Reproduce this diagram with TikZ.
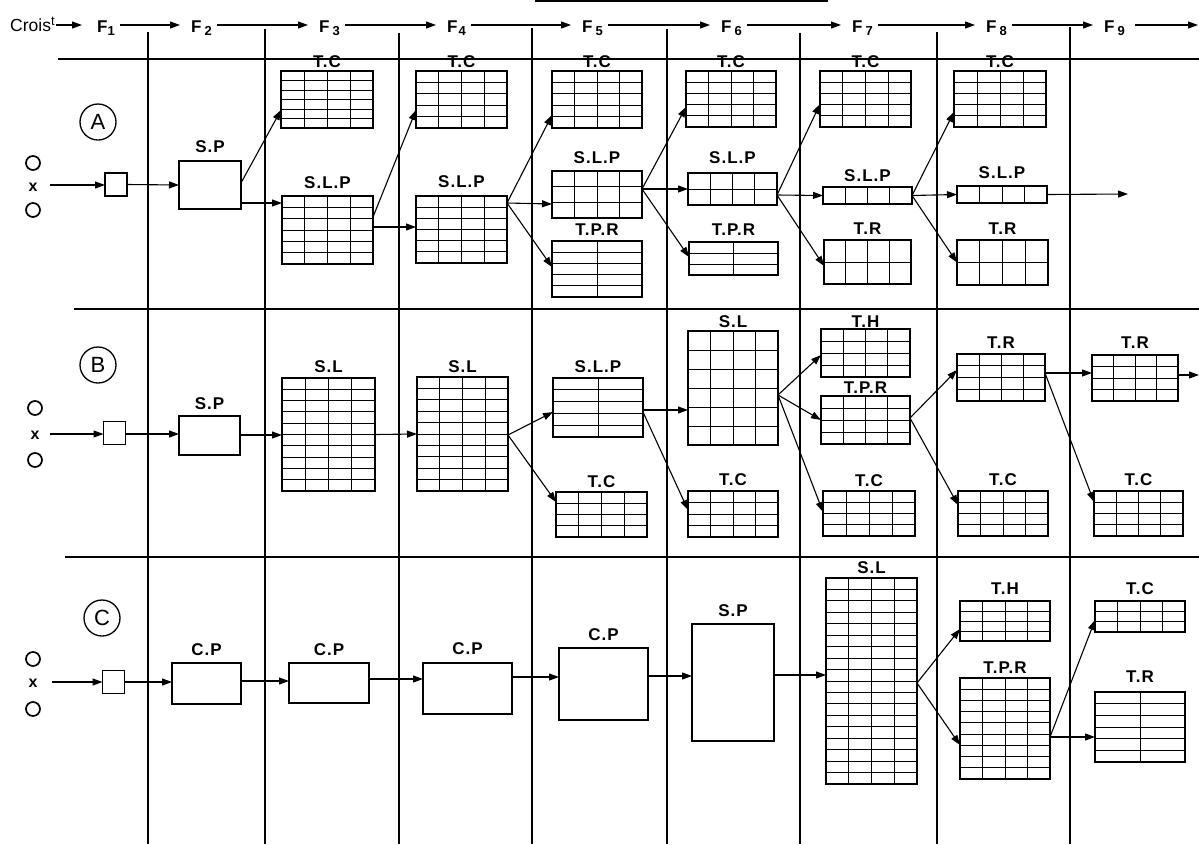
\documentclass[tikz,border=0pt]{standalone}
\usepackage{fontspec}
\setmainfont{Liberation Sans}
\newfontfamily\labfont[LetterSpace=6]{Liberation Sans}
\usetikzlibrary{arrows.meta}
\tikzset{
 tbox/.style={draw, line width=1.3pt, inner sep=0pt, outer sep=0pt},
 gridl/.style={line width=1pt},
 arr/.style={line width=1.1pt, -{Triangle[length=10pt,width=7pt]}},
 lab/.style={font={\labfont\bfseries\fontsize{17}{17}\selectfont}, inner sep=0pt},
 hdr/.style={font={\bfseries\fontsize{17}{17}\selectfont}, inner sep=0pt},
 sepl/.style={line width=1.2pt},
 rowc/.style={circle, draw, line width=1.3pt, minimum size=36pt, inner sep=0pt, font={\fontsize{22}{22}\selectfont}},
 omark/.style={circle, draw, line width=1.7pt, minimum size=14pt, inner sep=0pt},
 xmark/.style={inner sep=0pt, font={\bfseries\fontsize{16}{16}\selectfont}},
 sq/.style={tbox, minimum width=22pt, minimum height=23pt}
}
\newcommand\tbl[9]{%
 \node[tbox, minimum width={#4-#2}, minimum height={#5-#3}] (#1) at ({(#2+#4)/2},{(#3+#5)/2}) {};
 \foreach \k in {1,...,#6}{\ifnum\k<#6\relax \draw[gridl] ({#2+\k*(#4-#2)/#6},#3) -- ({#2+\k*(#4-#2)/#6},#5);\fi}
 \foreach \k in {1,...,#7}{\ifnum\k<#7\relax \draw[gridl] (#2,{#3+\k*(#5-#3)/#7}) -- (#4,{#3+\k*(#5-#3)/#7});\fi}
 \node[lab] (#1l) at ({(#2+#4)/2},#9) {#8};
}
\newcommand\cn[4]{\draw[arr] ([yshift=#2pt]#1.east) -- ([yshift=#4pt]#3.west);}
\newcommand\sub[1]{\raisebox{-3.5pt}{\fontsize{13}{13}\selectfont #1}}
\begin{document}
\begin{tikzpicture}[x=1pt,y=-1pt]
\useasboundingbox (0,0) rectangle (1199,844);
% frame lines
\draw[sepl] (535,1) -- (828,1);
\draw[sepl] (58,59) -- (1199,59);
\draw[sepl] (74,309) -- (1199,309);
\draw[sepl] (65,557) -- (1199,557);
\foreach \xx/\yy in {148/32,265/29,399/33,532/28,667/29,800/33,937/32,1070/27}
  \draw[sepl] (\xx,\yy) -- (\xx,844);
% header
\coordinate (hy) at (0,25);
\node[hdr, anchor=base west, font={\fontsize{17.5}{17.5}\selectfont}] (cr) at (10,31) {Crois\raisebox{6pt}{\fontsize{13}{13}\selectfont t}};
\node[hdr, anchor=base west] (f1) at (97,32) {F\sub{1}};
\node[hdr, anchor=base west] (f2) at (191,32) {F\hspace{3pt}\sub{2}};
\node[hdr, anchor=base west] (f3) at (319,32) {F\hspace{3pt}\sub{3}};
\node[hdr, anchor=base west] (f4) at (447,32) {F\hspace{1pt}\sub{4}};
\node[hdr, anchor=base west] (f5) at (582,32) {F\hspace{3pt}\sub{5}};
\node[hdr, anchor=base west] (f6) at (721,32) {F\hspace{3pt}\sub{6}};
\node[hdr, anchor=base west] (f7) at (852,32) {F\hspace{3pt}\sub{7}};
\node[hdr, anchor=base west] (f8) at (986,32) {F\hspace{3pt}\sub{8}};
\node[hdr, anchor=base west] (f9) at (1104,32) {F\hspace{3pt}\sub{9}};
\coordinate (fend) at (1198,25);
\draw[arr, shorten <=1pt, shorten >=15pt] (cr.east |- hy) -- (f1.west |- hy);
\foreach \p/\q in {f1/f2,f2/f3,f3/f4,f4/f5,f5/f6,f6/f7,f7/f8,f8/f9}
  \draw[arr, shorten <=5pt, shorten >=11pt] (\p.east |- hy) -- (\q.west |- hy);
\draw[arr, shorten <=10pt] (f9.east |- hy) -- (fend);
% ================= row A
\node[rowc] (ca) at (98,122) {A};
\node[omark] (ao1) at (33,163) {};
\node[xmark] (ax) at (33,187) {x};
\node[omark] (ao2) at (33,210) {};
\node[sq] (aq) at (116,184.5) {};
\coordinate (ain) at (50,185);
\draw[arr] (ain) -- (ain -| aq.west);
\tbl{asp}{179}{161}{241}{209}{1}{1}{S.P}{147}
\tbl{a3tc}{281}{71}{373}{128}{4}{6}{T.C}{62}
\tbl{a3slp}{282}{196}{373}{264}{4}{6}{S.L.P}{183}
\tbl{a4tc}{416}{71}{507}{128}{4}{5}{T.C}{62}
\tbl{a4slp}{416}{196}{507}{263}{4}{6}{S.L.P}{182}
\tbl{a5tc}{552}{71}{642}{128}{4}{5}{T.C}{62}
\tbl{a5slp}{552}{171}{642}{218}{4}{3}{S.L.P}{158}
\tbl{a5tpr}{552}{241}{642}{297}{2}{5}{T.P.R}{230}
\tbl{a6tc}{686}{71}{776}{127}{4}{5}{T.C}{62}
\tbl{a6slp}{688}{173}{777}{205}{4}{2}{S.L.P}{158}
\tbl{a6tpr}{689}{242}{778}{275}{2}{3}{T.P.R}{230}
\tbl{a7tc}{820}{71}{911}{127}{4}{5}{T.C}{62}
\tbl{a7slp}{823}{187}{912}{204}{4}{1}{S.L.P}{176}
\tbl{a7tr}{824}{240}{911}{284}{4}{2}{T.R}{229}
\tbl{a8tc}{954}{71}{1046}{127}{4}{5}{T.C}{62}
\tbl{a8slp}{957}{186}{1047}{203}{4}{1}{S.L.P}{173}
\tbl{a8tr}{957}{240}{1048}{285}{4}{2}{T.R}{229}
\coordinate (aend) at (1128,194);
\cn{aq}{0}{asp}{0}
\cn{asp}{2}{a3tc}{-10.5}
\cn{asp}{-18}{a3slp}{27}
\cn{a3slp}{13}{a4tc}{-10.5}
\cn{a3slp}{3}{a4slp}{2.5}
\cn{a4slp}{26.5}{a5tc}{-15.5}
\cn{a4slp}{26.5}{a5slp}{-9.5}
\cn{a4slp}{26.5}{a5tpr}{2}
\cn{a5slp}{5.5}{a6tc}{-8}
\cn{a5slp}{5.5}{a6slp}{0}
\cn{a5slp}{5.5}{a6tpr}{1.5}
\cn{a6slp}{-6}{a7tc}{-5}
\cn{a6slp}{-6}{a7slp}{0}
\cn{a6slp}{-6}{a7tr}{-4}
\cn{a7slp}{0}{a8tc}{-13}
\cn{a7slp}{0}{a8slp}{0}
\cn{a7slp}{0}{a8tr}{0}
\draw[arr] (a8slp.east) -- (aend);
% ================= row B
\node[rowc] (cb) at (98,365) {B};
\node[omark] (bo1) at (35,408) {};
\node[xmark] (bx) at (35,435) {x};
\node[omark] (bo2) at (35,460) {};
\node[sq] (bq) at (114.5,433) {};
\coordinate (bin) at (50,434);
\draw[arr] (bin) -- (bin -| bq.west);
\tbl{bsp}{179}{416}{240}{455}{1}{1}{S.P}{404}
\tbl{b3sl}{282}{378}{375}{491}{4}{10}{S.L}{367}
\tbl{b4sl}{417}{377}{508}{491}{4}{10}{S.L}{367}
\tbl{b5slp}{553}{378}{643}{437}{2}{5}{S.L.P}{367}
\tbl{b5tc}{556}{492}{647}{537}{4}{4}{T.C}{482}
\tbl{b6sl}{688}{331}{778}{445}{4}{6}{S.L}{322}
\tbl{b6tc}{688}{491}{778}{537}{4}{4}{T.C}{480}
\tbl{b7th}{821}{329}{910}{377}{4}{4}{T.H}{322}
\tbl{b7tpr}{821}{396}{910}{444}{4}{4}{T.P.R}{388}
\tbl{b7tc}{823}{491}{915}{536}{4}{4}{T.C}{481}
\tbl{b8tr}{957}{354}{1045}{401}{4}{4}{T.R}{343}
\tbl{b8tc}{958}{491}{1048}{536}{4}{4}{T.C}{480}
\tbl{b9tr}{1092}{355}{1178}{401}{4}{4}{T.R}{343}
\tbl{b9tc}{1094}{491}{1183}{536}{4}{4}{T.C}{480}
\coordinate (bend) at (1199,375);
\cn{bq}{-1}{bsp}{1.5}
\cn{bsp}{0.5}{b3sl}{-0.5}
\cn{b3sl}{0}{b4sl}{0}
\cn{b4sl}{-1}{b5slp}{-4.5}
\cn{b4sl}{-1}{b5tc}{12.5}
\cn{b5slp}{-2.5}{b6sl}{-22}
\cn{b5slp}{-4.5}{b6tc}{4}
\cn{b6sl}{-7}{b7th}{-2}
\cn{b6sl}{-7}{b7tpr}{0}
\cn{b6sl}{-7}{b7tc}{1.5}
\cn{b7tpr}{2}{b8tr}{7.5}
\cn{b7tpr}{2}{b8tc}{8.5}
\cn{b8tr}{4.5}{b9tr}{5}
\cn{b8tr}{4.5}{b9tc}{11.5}
\draw[arr] ([yshift=3pt]b9tr.east) -- (bend);
% ================= row C
\node[rowc] (cc) at (102,618) {C};
\node[omark] (co1) at (33,659) {};
\node[xmark] (cx) at (33,683) {x};
\node[omark] (co2) at (33,709) {};
\node[sq] (cq) at (113.5,682) {};
\coordinate (cin) at (52,682);
\draw[arr] (cin) -- (cin -| cq.west);
\tbl{c2cp}{172}{663}{241}{704}{1}{1}{C.P}{650}
\tbl{c3cp}{289}{663}{369}{703}{1}{1}{C.P}{650}
\tbl{c4cp}{423}{663}{512}{714}{1}{1}{C.P}{649}
\tbl{c5cp}{559}{648}{648}{720}{1}{1}{C.P}{635}
\tbl{c6sp}{692}{624}{774}{741}{1}{1}{S.P}{611}
\tbl{c7sl}{826}{578}{917}{784}{4}{18}{S.L}{568}
\tbl{c8th}{960}{601}{1050}{641}{4}{4}{T.H}{589}
\tbl{c8tpr}{960}{678}{1050}{779}{4}{9}{T.P.R}{668}
\tbl{c9tc}{1095}{601}{1185}{632}{4}{3}{T.C}{589}
\tbl{c9tr}{1095}{692}{1185}{762}{2}{6}{T.R}{677}
\cn{cq}{0}{c2cp}{1.5}
\cn{c2cp}{2.5}{c3cp}{2}
\cn{c3cp}{4}{c4cp}{9.5}
\cn{c4cp}{11.5}{c5cp}{7}
\cn{c5cp}{8}{c6sp}{6.5}
\cn{c6sp}{7.5}{c7sl}{6}
\cn{c7sl}{-2}{c8th}{-8}
\cn{c7sl}{-2}{c8tpr}{-16.5}
\cn{c8tpr}{-8.5}{c9tc}{-3.5}
\cn{c8tpr}{-8.5}{c9tr}{-10}
\end{tikzpicture}
\end{document}
